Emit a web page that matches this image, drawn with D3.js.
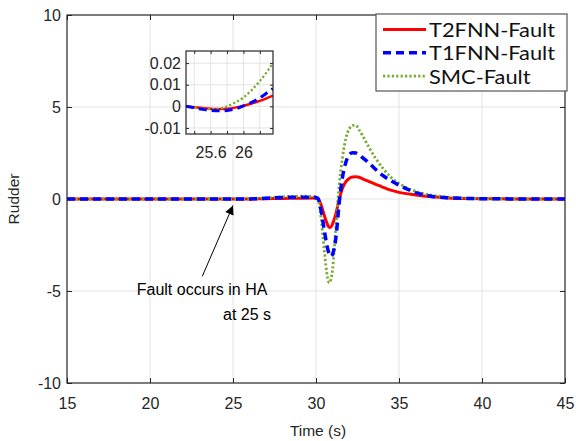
<!DOCTYPE html>
<meta charset="utf-8">
<script src="https://d3js.org/d3.v7.min.js"></script>
<style>
  body { margin: 0; background: #fff; }
  text { font-family: "Liberation Sans", Arial, sans-serif; fill: #262626; }
</style>
<div id="chart"></div>
<script>

// data
const time  = [15, 25, 26, 27, 28, 29, 29.8, 30.1, 30.3, 30.5, 30.7, 30.8, 30.9, 31, 31.2, 31.4, 31.6, 31.8, 32, 32.2, 32.4, 32.6, 32.8, 33.2, 33.6, 34, 34.5, 35, 36, 37, 38, 39, 40, 42, 45];
const t2fnn = [0, 0, 0.003, 0.02, 0.03, 0.04, 0.05, 0.03, -0.3, -0.9, -1.4, -1.55, -1.52, -1.35, -0.8, 0, 0.6, 0.95, 1.12, 1.2, 1.21, 1.18, 1.1, 0.95, 0.8, 0.65, 0.48, 0.36, 0.22, 0.12, 0.06, 0.03, 0.015, 0.005, 0];
const t1fnn = [0, 0, 0.004, 0.04, 0.08, 0.1, 0.1, 0.05, -0.6, -1.7, -2.7, -3.0, -3.12, -3.0, -2.1, -0.2, 1.2, 2.0, 2.4, 2.52, 2.5, 2.4, 2.25, 1.95, 1.6, 1.3, 1.0, 0.75, 0.35, 0.14, 0.06, 0.03, 0.015, 0.005, 0];
const smc   = [0, 0, 0.02, 0.06, 0.12, 0.15, 0.14, 0.05, -1.0, -2.8, -4.3, -4.55, -4.4, -3.8, -1.5, 0.8, 2.3, 3.3, 3.8, 4.0, 4.0, 3.75, 3.45, 2.8, 2.2, 1.7, 1.2, 0.85, 0.42, 0.2, 0.1, 0.05, 0.02, 0.005, 0];

// zoomed inset
const zoomTime = [25.3, 25.4, 25.5, 25.6, 25.7, 25.8, 25.9, 26, 26.1, 26.2, 26.3, 26.36];
const zoomT2   = [0, -0.0004, -0.0008, -0.0011, -0.0012, -0.0011, -0.0006, 0.0003, 0.0013, 0.0025, 0.004, 0.0049];
const zoomT1   = [0, -0.0007, -0.0014, -0.0019, -0.0021, -0.0019, -0.0012, 0.0002, 0.0018, 0.0039, 0.0066, 0.0082];
const zoomSmc  = [0, -0.0005, -0.001, -0.0013, -0.0012, 0, 0.0018, 0.0041, 0.0075, 0.0117, 0.0167, 0.02];

const xTicks = [15, 20, 25, 30, 35, 40, 45];
const yTicks = [-10, -5, 0, 5, 10];
const zoomXTicks = [25.4, 25.6, 25.8, 26, 26.2];
const zoomXLabels = [25.6, 26];
const zoomYTicks = [-0.01, 0, 0.01, 0.02];
const names = ["T2FNN-Fault", "T1FNN-Fault", "SMC-Fault"];

const styles = [
  {color: "#ff0000", width: 3, dash: null},
  {color: "#0000ff", width: 3.5, dash: "8,5"},
  {color: "#77ac30", width: 2.8, dash: "2.2,2.2"}
];

// matlab style labels: plain hyphen for minus
const fmt = d => String(d).replace("\u2212", "-");

const margin = {top: 15, right: 11, bottom: 58, left: 67},
      width = 576 - margin.left - margin.right,
      height = 441 - margin.top - margin.bottom;

const svg = d3.select("#chart")
  .append("svg")
  .attr("width", 576)
  .attr("height", 441);

const g = svg.append("g")
  .attr("transform", `translate(${margin.left},${margin.top})`);

const x = d3.scaleLinear().domain([15, 45]).range([0, width]);
const y = d3.scaleLinear().domain([-10, 10]).range([height, 0]);

// grid
g.append("g").selectAll("line").data(xTicks.slice(1, -1)).join("line")
  .attr("x1", d => x(d)).attr("x2", d => x(d))
  .attr("y1", 0).attr("y2", height)
  .attr("stroke", "#e3e3e3").attr("stroke-width", 1);
g.append("g").selectAll("line").data(yTicks.slice(1, -1)).join("line")
  .attr("y1", d => y(d)).attr("y2", d => y(d))
  .attr("x1", 0).attr("x2", width)
  .attr("stroke", "#e3e3e3").attr("stroke-width", 1);

// axes (inward ticks)
const xAxis = g.append("g")
  .attr("transform", `translate(0,${height})`)
  .call(d3.axisBottom(x).tickValues(xTicks).tickSizeInner(-5).tickSizeOuter(0).tickPadding(15).tickFormat(fmt));
const yAxis = g.append("g")
  .call(d3.axisLeft(y).tickValues(yTicks).tickSizeInner(-5).tickSizeOuter(0).tickPadding(6).tickFormat(fmt));
g.append("g").call(d3.axisTop(x).tickValues(xTicks).tickSizeInner(-5).tickSizeOuter(0).tickFormat(""));
g.append("g").attr("transform", `translate(${width},0)`)
  .call(d3.axisRight(y).tickValues(yTicks).tickSizeInner(-5).tickSizeOuter(0).tickFormat(""));
g.selectAll(".domain").remove();
g.selectAll(".tick line").attr("stroke", "#262626");
xAxis.selectAll("text").attr("font-size", 16).attr("fill", "#262626");
yAxis.selectAll("text").attr("font-size", 16).attr("fill", "#262626");

// clip
svg.append("clipPath").attr("id", "clipMain")
  .append("rect").attr("width", width).attr("height", height);

const lineMain = d3.line()
  .x((d, i) => x(time[i]))
  .y(d => y(d))
  .curve(d3.curveMonotoneX);

const plot = g.append("g").attr("clip-path", "url(#clipMain)");
[[t2fnn, 0], [smc, 2], [t1fnn, 1]].forEach(([s, k]) => {
  plot.append("path")
    .datum(s)
    .attr("d", lineMain)
    .attr("fill", "none")
    .attr("stroke", styles[k].color)
    .attr("stroke-width", styles[k].width)
    .attr("stroke-dasharray", styles[k].dash);
});

// box
g.append("rect").attr("width", width).attr("height", height)
  .attr("fill", "none").attr("stroke", "#262626").attr("stroke-width", 1.2);

// annotation
svg.append("defs").append("marker")
  .attr("id", "arrow").attr("viewBox", "0 0 10 10")
  .attr("refX", 10).attr("refY", 5)
  .attr("markerWidth", 11).attr("markerHeight", 9)
  .attr("markerUnits", "userSpaceOnUse")
  .attr("orient", "auto")
  .append("path").attr("d", "M0,0L10,5L0,10z").attr("fill", "#000");

g.append("line")
  .attr("x1", x(23.15)).attr("y1", y(-4.2))
  .attr("x2", x(25)).attr("y2", y(-0.35))
  .attr("stroke", "#000").attr("stroke-width", 1)
  .attr("marker-end", "url(#arrow)");
g.append("text")
  .attr("x", x(19.2)).attr("y", y(-5.2))
  .attr("font-size", 16).style("fill", "#000")
  .text("Fault occurs in HA");
g.append("text")
  .attr("x", x(24.4)).attr("y", y(-6.55))
  .attr("font-size", 16).style("fill", "#000")
  .text("at 25 s");

// axis labels
svg.append("text")
  .attr("x", margin.left + width / 2 + 2).attr("y", 436)
  .attr("text-anchor", "middle").attr("font-size", 15.5)
  .text("Time (s)");
svg.append("text")
  .attr("transform", `translate(19,${margin.top + height / 2}) rotate(-90)`)
  .attr("text-anchor", "middle").attr("font-size", 15.5)
  .text("Rudder");

// inset
const inset = {left: 186, top: 51, w: 87, h: 83};
const xi = d3.scaleLinear().domain([25.3, 26.36]).range([0, inset.w]);
const yi = d3.scaleLinear().domain([-0.0128, 0.0256]).range([inset.h, 0]);
const gi = svg.append("g").attr("transform", `translate(${inset.left},${inset.top})`);
gi.append("rect").attr("width", inset.w).attr("height", inset.h).attr("fill", "#fff");
gi.append("g").selectAll("line").data(zoomXTicks).join("line")
  .attr("x1", d => xi(d)).attr("x2", d => xi(d)).attr("y1", 0).attr("y2", inset.h)
  .attr("stroke", "#e3e3e3");
gi.append("g").selectAll("line").data(zoomYTicks).join("line")
  .attr("y1", d => yi(d)).attr("y2", d => yi(d)).attr("x1", 0).attr("x2", inset.w)
  .attr("stroke", "#e3e3e3");
const xiAxis = gi.append("g").attr("transform", `translate(0,${inset.h})`)
  .call(d3.axisBottom(xi).tickValues(zoomXTicks).tickSizeInner(-3).tickSizeOuter(0).tickPadding(13)
    .tickFormat(d => zoomXLabels.includes(d) ? String(d) : ""));
const yiAxis = gi.append("g")
  .call(d3.axisLeft(yi).tickValues(zoomYTicks).tickSizeInner(-3).tickSizeOuter(0).tickPadding(5)
    .tickFormat(d => d === 0 ? "0" : d3.format(".2f")(d).replace("\u2212", "-")));
gi.append("g").call(d3.axisTop(xi).tickValues(zoomXTicks).tickSizeInner(-3).tickSizeOuter(0).tickFormat(""));
gi.append("g").attr("transform", `translate(${inset.w},0)`)
  .call(d3.axisRight(yi).tickValues(zoomYTicks).tickSizeInner(-3).tickSizeOuter(0).tickFormat(""));
gi.selectAll(".domain").remove();
gi.selectAll(".tick line").attr("stroke", "#262626");
xiAxis.selectAll("text").attr("font-size", 16).attr("fill", "#262626");
yiAxis.selectAll("text").attr("font-size", 16).attr("fill", "#262626");

svg.append("clipPath").attr("id", "clipInset")
  .append("rect").attr("width", inset.w).attr("height", inset.h);
const lineInset = d3.line()
  .x((d, i) => xi(zoomTime[i]))
  .y(d => yi(d))
  .curve(d3.curveMonotoneX);
const pi = gi.append("g").attr("clip-path", "url(#clipInset)");
[[zoomT2, 0], [zoomSmc, 2], [zoomT1, 1]].forEach(([s, k]) => {
  pi.append("path").datum(s).attr("d", lineInset)
    .attr("fill", "none")
    .attr("stroke", styles[k].color)
    .attr("stroke-width", styles[k].width - 0.5)
    .attr("stroke-dasharray", styles[k].dash);
});
gi.append("rect").attr("width", inset.w).attr("height", inset.h)
  .attr("fill", "none").attr("stroke", "#262626").attr("stroke-width", 1.2);

// legend
const leg = svg.append("g").attr("transform", "translate(376,14)");
leg.append("rect").attr("width", 191).attr("height", 77)
  .attr("fill", "#fff").attr("stroke", "#555").attr("stroke-width", 1.2);
names.forEach((n, i) => {
  const row = leg.append("g").attr("transform", `translate(0,${15.5 + i * 23.3})`);
  row.append("line").attr("x1", 7).attr("x2", 50)
    .attr("stroke", styles[i].color).attr("stroke-width", styles[i].width)
    .attr("stroke-dasharray", styles[i].dash);
  row.append("text")
    .attr("transform", "translate(53,7.5) scale(1.12,1)")
    .style("font-family", "Lato, 'Open Sans', sans-serif")
    .style("fill", "#111")
    .attr("font-size", 19.5)
    .text(n);
});

</script>
